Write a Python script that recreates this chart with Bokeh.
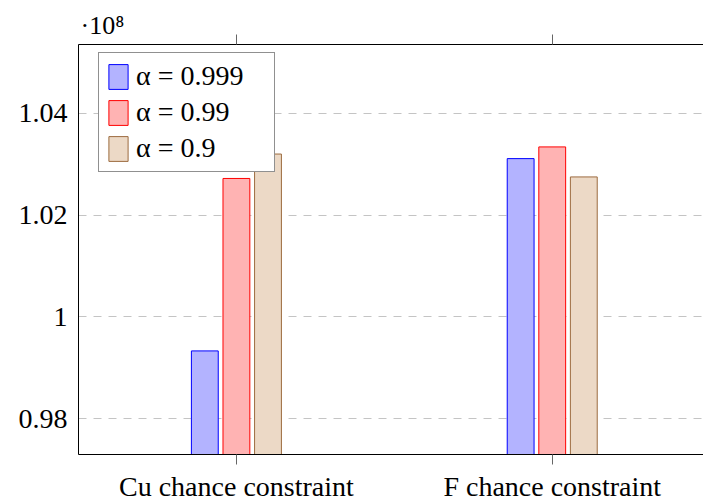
from bokeh.plotting import figure
from bokeh.models import (ColumnDataSource, Range1d, FixedTicker, LinearAxis,
                          Legend, LegendItem, Title, CustomJSTickFormatter)
from bokeh.transform import dodge
from bokeh.embed import file_html
from bokeh.resources import INLINE

# ---- data ----
categories = ["Cu chance constraint", "F chance constraint"]
series_labels = ["α = 0.999", "α = 0.99", "α = 0.9"]
alpha_0999 = [0.9933e8, 1.0311e8]
alpha_099 = [1.0272e8, 1.0334e8]
alpha_09 = [1.0320e8, 1.0275e8]
y_ticks = [0.98e8, 1.00e8, 1.02e8, 1.04e8]

FONT = "Liberation Serif"
fills = ["#b3b3ff", "#ffb3b3", "#ecd9c6"]
lines = ["#0000ff", "#ff0000", "#9c6b3f"]
offsets = [-0.1, 0.0, 0.1]

idx = list(range(len(categories)))
src = ColumnDataSource(dict(x=idx, a0999=alpha_0999, a099=alpha_099, a09=alpha_09))

p = figure(width=703, height=504, output_backend="svg", toolbar_location=None,
           x_range=Range1d(-0.5, 1.479), y_range=Range1d(0.97294e8, 1.05353e8),
           min_border_left=78, min_border_right=0, min_border_top=44,
           min_border_bottom=50, x_axis_location=None, y_axis_location=None)
p.outline_line_color = None
p.background_fill_color = "white"
p.border_fill_color = "white"

renderers = []
for col, off, fc, lc in zip(["a0999", "a099", "a09"], offsets, fills, lines):
    r = p.vbar(x=dodge("x", off), top=col, bottom=0, width=0.085, source=src,
               fill_color=fc, line_color=lc, line_width=1)
    renderers.append(r)

# axes
xb = LinearAxis(ticker=FixedTicker(ticks=idx),
                major_label_overrides={i: c for i, c in enumerate(categories)})
xb.major_tick_out = 10
xb.major_tick_in = 0
xb.major_tick_line_color = "#666666"
xb.minor_tick_line_color = None
xb.axis_line_color = "black"
xb.major_label_text_font = FONT
xb.major_label_text_font_size = "28px"
xb.major_label_text_color = "black"
xb.major_label_standoff = 6
p.add_layout(xb, "below")

xa = LinearAxis(ticker=FixedTicker(ticks=idx),
                major_label_overrides={i: "" for i in idx})
xa.major_tick_out = 10
xa.major_tick_in = 0
xa.major_tick_line_color = "#666666"
xa.minor_tick_line_color = None
xa.axis_line_color = "black"
xa.major_label_standoff = 0
p.add_layout(xa, "above")

yl = LinearAxis(ticker=FixedTicker(ticks=y_ticks),
                formatter=CustomJSTickFormatter(
                    code="return String(parseFloat((tick/1e8).toFixed(4)));"))
yl.major_tick_out = 0
yl.major_tick_in = 0
yl.minor_tick_line_color = None
yl.axis_line_color = "black"
yl.major_label_text_font = FONT
yl.major_label_text_font_size = "28px"
yl.major_label_text_color = "black"
yl.major_label_standoff = 11
p.add_layout(yl, "left")

p.xgrid.visible = False
p.ygrid.ticker = FixedTicker(ticks=y_ticks)
p.ygrid.grid_line_color = "#c4c4c4"
p.ygrid.grid_line_dash = "8 7"
p.ygrid.grid_line_width = 1

# scale marker above the frame
p.add_layout(Title(text="·10⁸", align="left", offset=2, standoff=-11,
                   text_font=FONT, text_font_size="26px", text_font_style="normal",
                   text_color="black"), "above")

legend = Legend(items=[LegendItem(label=l, renderers=[r]) for l, r in zip(series_labels, renderers)],
                location=(20, 282))
legend.label_text_font = FONT
legend.label_text_font_size = "28px"
legend.label_text_color = "black"
legend.glyph_width = 24
legend.glyph_height = 31
legend.label_height = 31
legend.label_width = 131
legend.label_standoff = 6
legend.padding = 7
legend.spacing = 4
legend.margin = 0
legend.border_line_color = "#222222"
legend.border_line_width = 1
legend.background_fill_alpha = 1.0
p.add_layout(legend, "center")

open("out.html", "w").write(file_html(p, INLINE))
